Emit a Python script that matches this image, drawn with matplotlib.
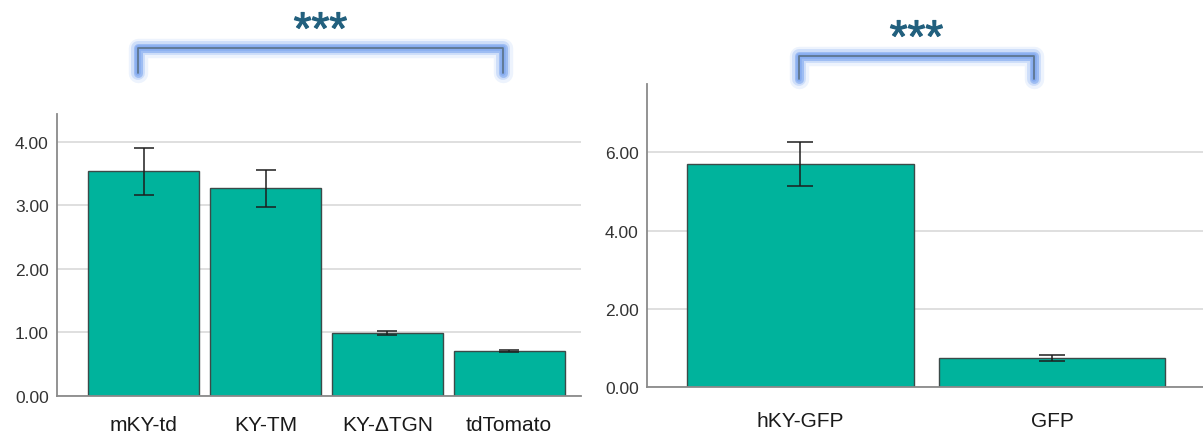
import matplotlib
matplotlib.use("Agg")
import matplotlib.pyplot as plt
import matplotlib.patheffects as pe
from matplotlib.lines import Line2D

plt.rcParams["font.family"] = ["Liberation Sans", "DejaVu Sans"]

# Relative expression, panel A (mouse constructs)
cats_a = ["mKY-td", "KY-TM", "KY-\u0394TGN", "tdTomato"]
vals_a = [3.54, 3.27, 0.99, 0.71]
errs_a = [0.37, 0.29, 0.03, 0.02]
ticks_a = [0, 1, 2, 3, 4]

# Relative expression, panel B (human construct)
cats_b = ["hKY-GFP", "GFP"]
vals_b = [5.70, 0.75]
errs_b = [0.56, 0.08]
ticks_b = [0, 2, 4, 6]

sig_label = "***"

BAR = "#00b39c"
EDGE = "#3c4a48"
GRID = "#dcdcdc"
AXIS = "#8a8a8a"
STAR = "#22607e"

W, H = 1203, 435
fig = plt.figure(figsize=(W / 100, H / 100), dpi=100)


def px_rect(x0, y0, x1, y1):
    return [x0 / W, 1 - y1 / H, (x1 - x0) / W, (y1 - y0) / H]


def panel(rect, cats, vals, errs, ticks, ylim, xlim, width, capsize, labpad):
    ax = fig.add_axes(rect)
    x = list(range(len(cats)))
    ax.bar(x, vals, width=width, color=BAR, edgecolor=EDGE, linewidth=1.0, zorder=3)
    ax.errorbar(x, vals, yerr=errs, fmt="none", ecolor="#1e1e1e",
                elinewidth=1.1, capsize=capsize, capthick=1.1, zorder=4)
    ax.set_ylim(*ylim)
    ax.set_xlim(*xlim)
    ax.set_yticks(ticks)
    ax.set_yticklabels([f"{t:.2f}" for t in ticks], fontsize=12.5, color="#333333")
    ax.set_xticks(x)
    ax.set_xticklabels(cats, fontsize=15, color="#1a1a1a")
    ax.tick_params(axis="both", length=0)
    ax.tick_params(axis="y", pad=6)
    ax.tick_params(axis="x", pad=labpad)
    ax.yaxis.grid(True, color=GRID, linewidth=1.3, zorder=0)
    ax.set_axisbelow(True)
    for s in ("top", "right"):
        ax.spines[s].set_visible(False)
    for s in ("left", "bottom"):
        ax.spines[s].set_color(AXIS)
        ax.spines[s].set_linewidth(1.3)
    ax.spines["bottom"].set_zorder(5)
    return ax


panel(px_rect(57, 115, 581, 397), cats_a, vals_a, errs_a, ticks_a,
      (0, 4.44), (-0.713, 3.59), 0.91, 7.5, 14)
panel(px_rect(647, 85, 1203, 388), cats_b, vals_b, errs_b, ticks_b,
      (0, 7.75), (-0.61, 1.60), 0.90, 9.5, 17)

# Significance brackets with a soft blue glow
glow = [pe.Stroke(linewidth=14, foreground="#c4d8fa", alpha=0.30),
        pe.Stroke(linewidth=10, foreground="#a9c5f6", alpha=0.45),
        pe.Stroke(linewidth=6.5, foreground="#8fb3f2", alpha=0.75),
        pe.Stroke(linewidth=4, foreground="#86acf0", alpha=0.9),
        pe.Normal()]


def bracket(x0, x1, ytop, ybot, ystar):
    xs = [x0 / W, x0 / W, x1 / W, x1 / W]
    ys = [1 - ybot / H, 1 - ytop / H, 1 - ytop / H, 1 - ybot / H]
    ln = Line2D(xs, ys, transform=fig.transFigure, color="#5d7690",
                linewidth=1.3, solid_joinstyle="round", solid_capstyle="round",
                path_effects=glow)
    fig.add_artist(ln)
    fig.text((x0 + x1) / 2 / W, 1 - ystar / H, sig_label, ha="center",
             va="baseline", fontsize=33, color=STAR,
             path_effects=[pe.withStroke(linewidth=0.8, foreground=STAR)])


bracket(138, 503, 49, 74, 45)
bracket(799, 1034, 57, 80, 53)

fig.savefig("out.png", dpi=100)
